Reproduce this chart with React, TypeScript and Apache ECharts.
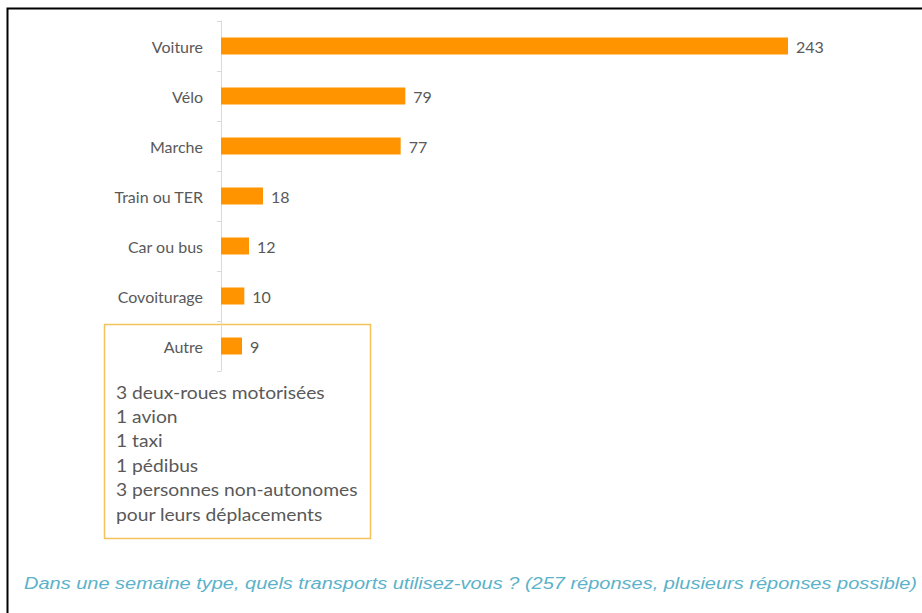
import React, { useEffect, useRef } from "react";
import * as echarts from "echarts";

const categories = ["Voiture", "Vélo", "Marche", "Train ou TER", "Car ou bus", "Covoiturage", "Autre"];
const values = [243, 79, 77, 18, 12, 10, 9];
const autreDetails = [
  "3 deux-roues motorisées",
  "1 avion",
  "1 taxi",
  "1 pédibus",
  "3 personnes non-autonomes",
  "pour leurs déplacements",
];
const caption =
  "Dans une semaine type, quels transports utilisez-vous ? (257 réponses, plusieurs réponses possible)";

export default function App() {
  const ref = useRef<HTMLDivElement>(null);
  useEffect(() => {
    if (!ref.current) return;
    const chart = echarts.init(ref.current, null, { renderer: "svg" });
    chart.setOption({
      animation: false,
      backgroundColor: "#ffffff",
      grid: { left: 221, top: 21, width: 567, height: 350, containLabel: false },
      xAxis: {
        type: "value",
        min: 0,
        max: "dataMax",
        show: false,
      },
      yAxis: {
        type: "category",
        data: categories,
        inverse: true,
        axisLine: { show: true, lineStyle: { color: "#d9d9d9", width: 1 } },
        axisTick: { show: true, length: 4, lineStyle: { color: "#d9d9d9" } },
        axisLabel: {
          color: "#595959",
          fontFamily: "Lato",
          fontSize: 16,
          margin: 18,
        },
        splitLine: { show: false },
      },
      series: [
        {
          type: "bar",
          data: values,
          barWidth: 17,
          itemStyle: { color: "#ff9400" },
          label: {
            show: true,
            position: "right",
            distance: 8,
            color: "#595959",
            fontFamily: "Lato",
            fontSize: 16,
          },
        },
      ],
      graphic: [
        {
          type: "rect",
          shape: { x: 7.5, y: 8.5, width: 1000, height: 1000 },
          style: { fill: "none", stroke: "#000000", lineWidth: 2 },
          silent: true,
        },
        {
          type: "rect",
          shape: { x: 104.5, y: 324.5, width: 266, height: 214 },
          style: { fill: "none", stroke: "#f4c25a", lineWidth: 1.5 },
          silent: true,
        },
        ...autreDetails.map((t, i) => ({
          type: "text",
          x: 116,
          y: 392 + i * 24.4,
          scaleX: 1.1,
          style: {
            text: t,
            fill: "#595959",
            font: '17.5px "Lato"',
            textVerticalAlign: "middle",
          },
          silent: true,
        })),
        {
          type: "text",
          x: 24,
          y: 583,
          scaleX: 1.176,
          style: {
            text: caption,
            fill: "#5bb2ca",
            font: 'italic 17px "Liberation Sans"',
            textVerticalAlign: "middle",
          },
          silent: true,
        },
      ],
    });
    return () => chart.dispose();
  }, []);
  return (
    <div
      ref={ref}
      style={{ position: "fixed", left: 0, top: 0, width: 922, height: 613 }}
    />
  );
}
